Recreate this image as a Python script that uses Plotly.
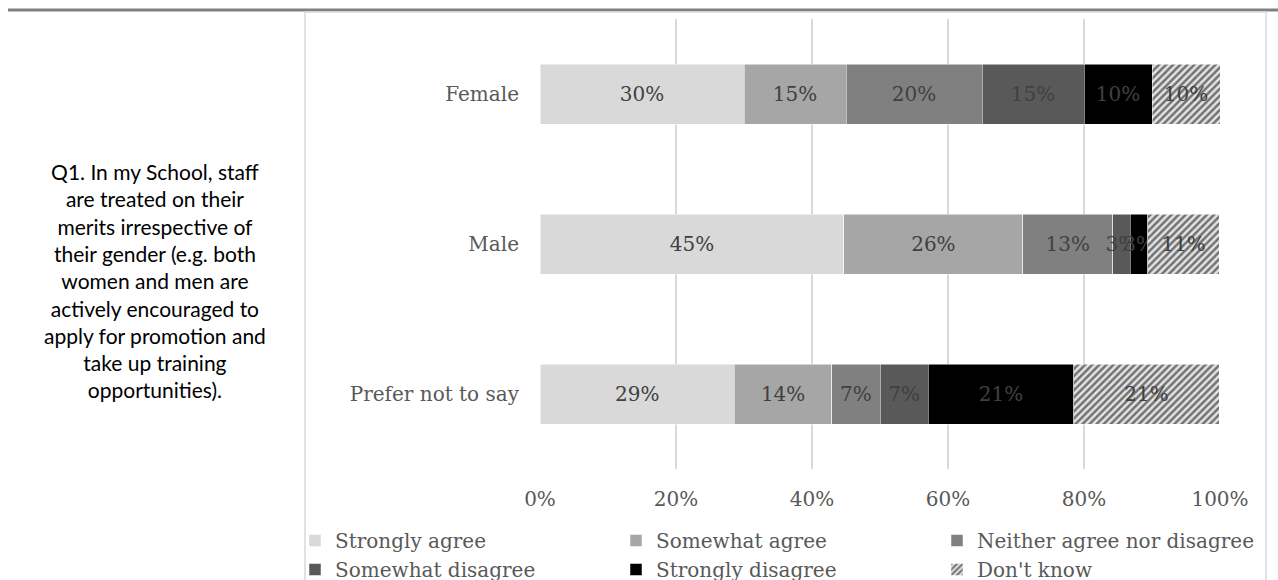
import plotly.graph_objects as go

# ---- data ----
groups = ["Female", "Male", "Prefer not to say"]
series = ["Strongly agree", "Somewhat agree", "Neither agree nor disagree",
          "Somewhat disagree", "Strongly disagree", "Don't know"]
strongly_agree    = [30.0, 44.7, 28.6]
somewhat_agree    = [15.0, 26.3, 14.3]
neither           = [20.0, 13.2, 7.1]
somewhat_disagree = [15.0, 2.6, 7.1]
strongly_disagree = [10.0, 2.6, 21.4]
dont_know         = [10.0, 10.5, 21.4]
values = [strongly_agree, somewhat_agree, neither, somewhat_disagree,
          strongly_disagree, dont_know]
labels_strongly_agree    = ["30%", "45%", "29%"]
labels_somewhat_agree    = ["15%", "26%", "14%"]
labels_neither           = ["20%", "13%", "7%"]
labels_somewhat_disagree = ["15%", "3%", "7%"]
labels_strongly_disagree = ["10%", "3%", "21%"]
labels_dont_know         = ["10%", "11%", "21%"]
labels = [labels_strongly_agree, labels_somewhat_agree, labels_neither,
          labels_somewhat_disagree, labels_strongly_disagree, labels_dont_know]
x_ticks = [0, 20, 40, 60, 80, 100]
x_tick_labels = ["0%", "20%", "40%", "60%", "80%", "100%"]
question = ("Q1. In my School, staff<br>are treated on their<br>merits irrespective of<br>"
            "their gender (e.g. both<br>women and men are<br>actively encouraged to<br>"
            "apply for promotion and<br>take up training<br>opportunities).")

colors = ["#d9d9d9", "#a6a6a6", "#808080", "#595959", "#000000", "#e4e4e4"]

# ---- layout geometry (pixels) ----
W, H = 1278, 580
PL, PR, PT, PB = 540, 1220, 19, 469


def px(x):
    return (x - PL) / (PR - PL)


def py(y):
    return (PB - y) / (PB - PT)


SERIF = "DejaVu Serif"
FS = 20
fig = go.Figure()
for name, vals, labs, col in zip(series, values, labels, colors):
    marker = dict(color=col, line=dict(color="#ffffff", width=0.5))
    if name == "Don't know":
        marker["pattern"] = dict(shape="/", fgcolor="#000000", bgcolor=col,
                                 size=5, solidity=0.5)
    fig.add_trace(go.Bar(
        name=name, y=groups, x=vals, orientation="h", marker=marker,
        width=0.4,
        text=labs,
        textposition="inside", insidetextanchor="middle", textangle=0,
        constraintext="none",
        insidetextfont=dict(family=SERIF, size=FS, color="#404040"),
        hoverinfo="x+y+name",
    ))

fig.update_layout(
    width=W, height=H, barmode="stack",
    margin=dict(l=PL, r=W - PR, t=PT, b=H - PB, pad=0, autoexpand=False),
    paper_bgcolor="white", plot_bgcolor="white",
    font=dict(family=SERIF, color="#595959", size=FS),
    xaxis=dict(range=[0, 100], tickvals=x_ticks, ticktext=x_tick_labels,
               showgrid=True, gridcolor="#d9d9d9", gridwidth=1.5,
               zeroline=False, showline=False, ticks="",
               ticklabelstandoff=16,
               tickfont=dict(family=SERIF, size=FS, color="#595959")),
    yaxis=dict(categoryorder="array", categoryarray=groups, autorange="reversed",
               showgrid=False, zeroline=False, showline=False, ticks="",
               ticklabelstandoff=20,
               tickfont=dict(family=SERIF, size=FS, color="#595959")),
    showlegend=True,
    legend=dict(orientation="h", x=px(295), xanchor="left", y=py(521), yanchor="top",
                entrywidth=276, entrywidthmode="pixels", traceorder="normal",
                font=dict(family=SERIF, size=FS, color="#595959"),
                bgcolor="rgba(0,0,0,0)"),
    bargap=0.6,
)

shapes = [
    dict(type="line", xref="paper", yref="paper", x0=px(8), x1=px(1278),
         y0=py(10), y1=py(10), line=dict(color="#808080", width=3)),
    dict(type="rect", xref="paper", yref="paper", x0=px(305), x1=px(1266),
         y0=py(600), y1=py(12), line=dict(color="#d9d9d9", width=1.5)),
]
fig.update_layout(shapes=shapes)

fig.add_annotation(text=question, xref="paper", yref="paper", x=px(155), y=py(280),
                   xanchor="center", yanchor="middle", align="center", showarrow=False,
                   font=dict(family="Lato", size=21, color="#000000"))

fig.write_html("out.html")
